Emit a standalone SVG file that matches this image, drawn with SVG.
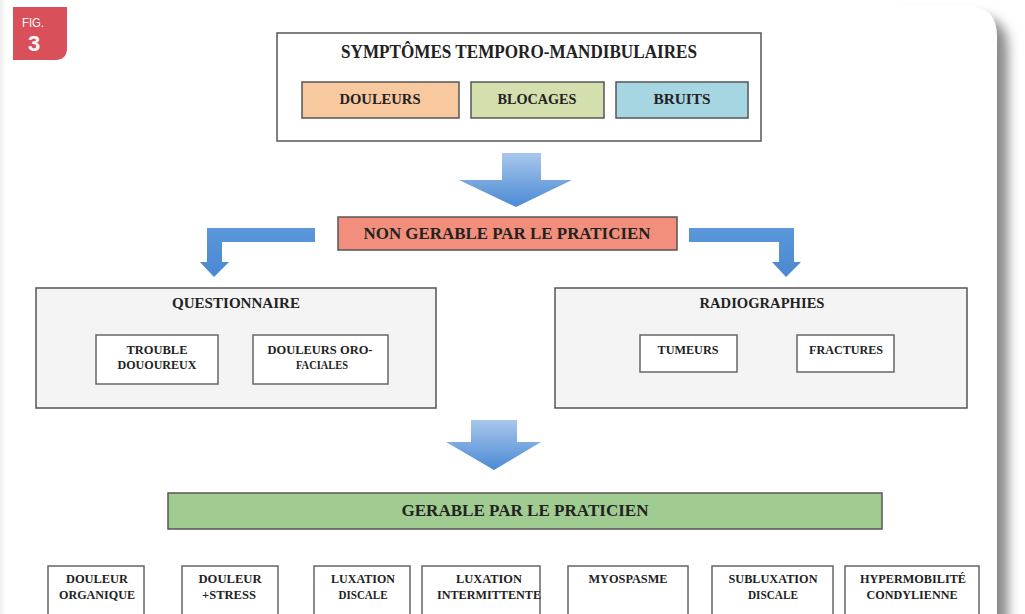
<svg xmlns="http://www.w3.org/2000/svg" width="1025" height="614" viewBox="0 0 1025 614">
<defs>
<linearGradient id="blue" x1="0" y1="0" x2="0" y2="1">
<stop offset="0" stop-color="#a9c7ec"/>
<stop offset="1" stop-color="#4a8ad4"/>
</linearGradient>
<linearGradient id="blueH" x1="0" y1="0" x2="0" y2="1">
<stop offset="0" stop-color="#5b97d9"/>
<stop offset="1" stop-color="#4a88d2"/>
</linearGradient>
<linearGradient id="leftEdge" x1="0" y1="0" x2="1" y2="0">
<stop offset="0" stop-color="#eeeeee"/>
<stop offset="1" stop-color="#ffffff"/>
</linearGradient>
<filter id="blur" x="-10%" y="-10%" width="120%" height="120%">
<feGaussianBlur stdDeviation="6"/>
</filter>
</defs>
<style>
.t{font-family:"Liberation Serif","Times New Roman",serif;font-weight:bold;fill:#222;text-anchor:middle;}
.box{stroke:#555;stroke-width:1.5;}
.sub{fill:#fff;stroke:#666;stroke-width:1.5;}
</style>
<rect x="0" y="0" width="1025" height="614" fill="#fff"/>
<rect x="0" y="0" width="6" height="614" fill="url(#leftEdge)"/>
<!-- card shadow -->
<path d="M900 16 L975 16 Q1008 16 1008 49 L1008 640 L900 640 Z" fill="#8a8a8a" filter="url(#blur)"/>
<path d="M6 6 L967 6 Q997 6 997 36 L997 614 L6 614 Z" fill="#fff"/>
<!-- badge -->
<g id="badge">
<path d="M13 7 L67 7 L67 48 Q67 60 55 60 L13 60 Z" fill="#d9505a"/>
<text x="33" y="27" font-family="Liberation Sans Narrow, Liberation Sans, Arial, sans-serif" font-size="13" fill="#fff" text-anchor="middle" textLength="22" lengthAdjust="spacingAndGlyphs">FIG.</text>
<text x="34" y="51" font-family="Liberation Sans, Arial, sans-serif" font-size="22" font-weight="bold" fill="#fff" text-anchor="middle">3</text>
</g>
<g id="connectors">
<path d="M502 153 L541 153 L541 180 L572 180 L516 207 L459 180 L502 180 Z" fill="url(#blue)"/>
<path d="M315 228 L207 228 L207 262 L200 262 L214 277 L229 262 L222 262 L222 242 L315 242 Z" fill="url(#blueH)"/>
<path d="M689 228 L794 228 L794 262 L801 262 L786 277 L772 262 L779 262 L779 242 L689 242 Z" fill="url(#blueH)"/>
<path d="M471 420 L517 420 L517 442 L541 442 L494 470 L446 442 L471 442 Z" fill="url(#blue)"/>
</g>
<g id="symptomes">
<rect x="277" y="33" width="484" height="108" fill="#fff" class="box"/>
<text class="t" x="519" y="58" font-size="18" textLength="356" lengthAdjust="spacingAndGlyphs">SYMPTÔMES TEMPORO-MANDIBULAIRES</text>
</g>
<g id="douleurs">
<rect x="302" y="82" width="157" height="36" fill="#f8c99f" class="box"/>
<text class="t" x="380" y="104" font-size="15" textLength="81" lengthAdjust="spacingAndGlyphs">DOULEURS</text>
</g>
<g id="blocages">
<rect x="471" y="82" width="133" height="36" fill="#d3dfad" class="box"/>
<text class="t" x="537" y="104" font-size="15" textLength="79" lengthAdjust="spacingAndGlyphs">BLOCAGES</text>
</g>
<g id="bruits">
<rect x="616" y="82" width="132" height="36" fill="#a7d6e3" class="box"/>
<text class="t" x="682" y="104" font-size="15" textLength="57" lengthAdjust="spacingAndGlyphs">BRUITS</text>
</g>
<g id="non-gerable">
<rect x="338" y="217" width="339" height="33" fill="#f28e7c" class="box"/>
<text class="t" x="507" y="239" font-size="17" textLength="287" lengthAdjust="spacingAndGlyphs">NON GERABLE PAR LE PRATICIEN</text>
</g>
<g id="questionnaire">
<rect x="36" y="288" width="400" height="120" fill="#f4f4f4" class="box"/>
<text class="t" x="236" y="308" font-size="14" textLength="128" lengthAdjust="spacingAndGlyphs">QUESTIONNAIRE</text>
</g>
<g id="trouble">
<rect x="96" y="335" width="122" height="49" class="sub"/>
<text class="t" x="157" y="354" font-size="12" textLength="61" lengthAdjust="spacingAndGlyphs">TROUBLE</text>
<text class="t" x="157" y="369" font-size="12" textLength="79" lengthAdjust="spacingAndGlyphs">DOUOUREUX</text>
</g>
<g id="oro-faciales">
<rect x="253" y="335" width="135" height="49" class="sub"/>
<text class="t" x="320" y="354" font-size="12" textLength="105" lengthAdjust="spacingAndGlyphs">DOULEURS ORO-</text>
<text class="t" x="322" y="369" font-size="12" textLength="52" lengthAdjust="spacingAndGlyphs">FACIALES</text>
</g>
<g id="radiographies">
<rect x="555" y="288" width="412" height="120" fill="#f4f4f4" class="box"/>
<text class="t" x="762" y="308" font-size="14" textLength="125" lengthAdjust="spacingAndGlyphs">RADIOGRAPHIES</text>
</g>
<g id="tumeurs">
<rect x="640" y="335" width="97" height="37" class="sub"/>
<text class="t" x="688" y="354" font-size="12" textLength="61" lengthAdjust="spacingAndGlyphs">TUMEURS</text>
</g>
<g id="fractures">
<rect x="797" y="335" width="97" height="37" class="sub"/>
<text class="t" x="846" y="354" font-size="12" textLength="74" lengthAdjust="spacingAndGlyphs">FRACTURES</text>
</g>
<g id="gerable">
<rect x="168" y="493" width="714" height="36" fill="#a0cc91" class="box"/>
<text class="t" x="525" y="516" font-size="16" textLength="247" lengthAdjust="spacingAndGlyphs">GERABLE PAR LE PRATICIEN</text>
</g>
<g id="douleur-organique">
<rect x="48" y="566" width="96" height="52" class="sub"/>
<text class="t" x="97" y="583" font-size="12" textLength="62" lengthAdjust="spacingAndGlyphs">DOULEUR</text>
<text class="t" x="97" y="599" font-size="12" textLength="76" lengthAdjust="spacingAndGlyphs">ORGANIQUE</text>
</g>
<g id="douleur-stress">
<rect x="182" y="566" width="96" height="52" class="sub"/>
<text class="t" x="230" y="583" font-size="12" textLength="63" lengthAdjust="spacingAndGlyphs">DOULEUR</text>
<text class="t" x="229" y="599" font-size="12" textLength="54" lengthAdjust="spacingAndGlyphs">+STRESS</text>
</g>
<g id="luxation-discale">
<rect x="314" y="566" width="96" height="52" class="sub"/>
<text class="t" x="363" y="583" font-size="12" textLength="64" lengthAdjust="spacingAndGlyphs">LUXATION</text>
<text class="t" x="363" y="599" font-size="12" textLength="49" lengthAdjust="spacingAndGlyphs">DISCALE</text>
</g>
<g id="luxation-intermittente">
<rect x="422" y="566" width="118" height="52" class="sub"/>
<text class="t" x="489" y="583" font-size="12" textLength="66" lengthAdjust="spacingAndGlyphs">LUXATION</text>
<text class="t" x="489" y="599" font-size="12" textLength="104" lengthAdjust="spacingAndGlyphs">INTERMITTENTE</text>
</g>
<g id="myospasme">
<rect x="568" y="566" width="120" height="52" class="sub"/>
<text class="t" x="628" y="583" font-size="12" textLength="79" lengthAdjust="spacingAndGlyphs">MYOSPASME</text>
</g>
<g id="subluxation-discale">
<rect x="712" y="566" width="121" height="52" class="sub"/>
<text class="t" x="773" y="583" font-size="12" textLength="89" lengthAdjust="spacingAndGlyphs">SUBLUXATION</text>
<text class="t" x="773" y="599" font-size="12" textLength="50" lengthAdjust="spacingAndGlyphs">DISCALE</text>
</g>
<g id="hypermobilite">
<rect x="845" y="566" width="134" height="52" class="sub"/>
<text class="t" x="913" y="583" font-size="12" textLength="106" lengthAdjust="spacingAndGlyphs">HYPERMOBILITÉ</text>
<text class="t" x="912" y="599" font-size="12" textLength="91" lengthAdjust="spacingAndGlyphs">CONDYLIENNE</text>
</g>
</svg>
